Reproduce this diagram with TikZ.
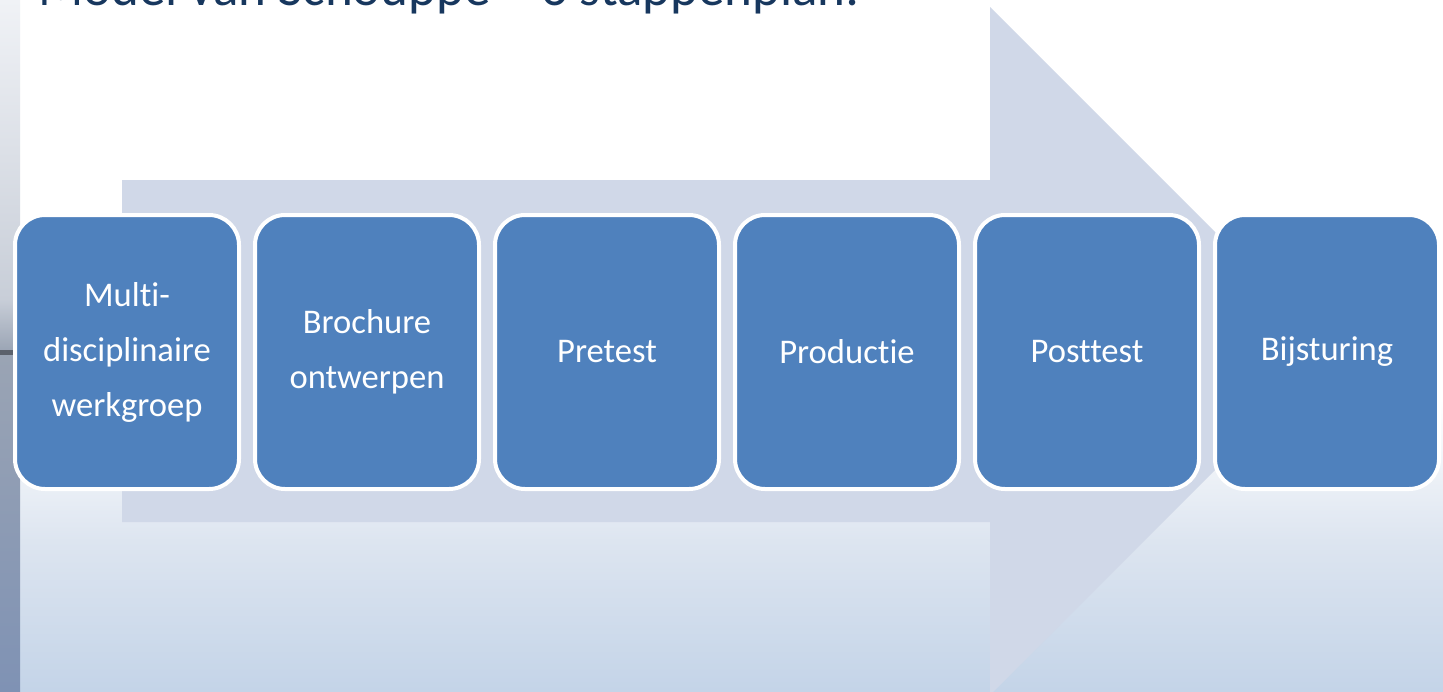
\documentclass[tikz,border=0pt]{standalone}
\usepackage{fontspec}
\setmainfont{Carlito}[Ligatures={NoCommon}]
\definecolor{boxblue}{HTML}{4F81BD}
\definecolor{arrowgray}{HTML}{D0D8E8}
\definecolor{titlenavy}{HTML}{17375E}
\definecolor{bgmid}{HTML}{DDE5F0}
\definecolor{bgbot}{HTML}{C4D4E8}
\definecolor{stripA}{HTML}{F0F2F6}
\definecolor{stripB}{HTML}{C8CED8}
\definecolor{stripC}{HTML}{9AA4B4}
\definecolor{stripD}{HTML}{7F92B4}
\tikzset{
  stepbox/.style={draw=white, line width=2pt, fill=boxblue, rounded corners=15pt,
    minimum width=112pt, minimum height=137pt, inner sep=2pt,
    text=white, align=center, font=\fontsize{17.3pt}{27.5pt}\selectfont},
  titletext/.style={anchor=base west, inner sep=0pt, text=titlenavy,
    font=\fontsize{26.5pt}{30pt}\selectfont}
}
\begin{document}
\begin{tikzpicture}[x=0.5pt,y=-0.5pt]
\useasboundingbox (0,0) rectangle (1443,691);
\clip (0,0) rectangle (1443,691);
% background
\fill[white] (0,0) rectangle (1443,400);
\shade[top color=white, bottom color=bgmid] (0,399) rectangle (1443,541);
\shade[top color=bgmid, bottom color=bgbot] (0,540) rectangle (1443,691);
% left water strip
\shade[top color=stripA, bottom color=stripB] (0,0) rectangle (20,300);
\shade[top color=stripB, bottom color=stripC] (0,299) rectangle (20,352);
\fill[stripC!60!black] (0,350) rectangle (20,356);
\shade[top color=stripC, bottom color=stripD] (0,355) rectangle (20,691);
% big arrow
\fill[arrowgray] (122,180) -- (990,180) -- (990,7) -- (1334,351) -- (990,695)
  -- (990,522) -- (122,522) -- cycle;
% title
\node[titletext] (title) at (38,5) {Model van Schouppe – 6 stappenplan:};
% steps
\node[stepbox] (s1) at (127,352) {Multi-\\disciplinaire\\werkgroep};
\node[stepbox] (s2) at (367,352) {Brochure\\ontwerpen};
\node[stepbox] (s3) at (607,352) {Pretest};
\node[stepbox] (s4) at (847,352) {Productie};
\node[stepbox] (s5) at (1087,352) {Posttest};
\node[stepbox] (s6) at (1327,352) {Bijsturing};
\end{tikzpicture}
\end{document}
